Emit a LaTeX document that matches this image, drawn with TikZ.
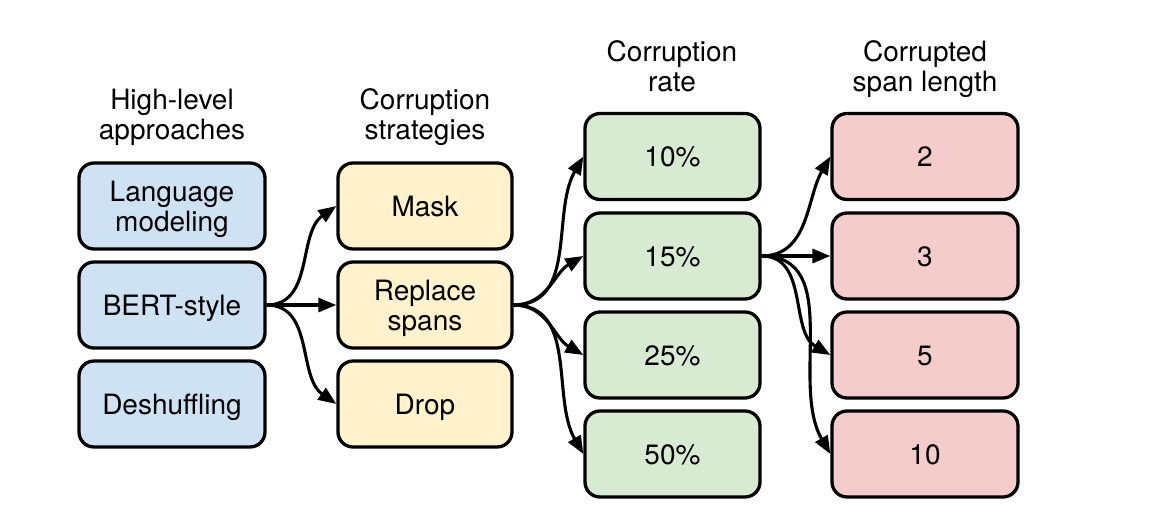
\documentclass[tikz,border=0pt]{standalone}
\usepackage{fontspec}
\setmainfont{TeX Gyre Heros}
\usetikzlibrary{arrows.meta}
\definecolor{cblue}{HTML}{CFE2F3}
\definecolor{cyellow}{HTML}{FFF2CC}
\definecolor{cgreen}{HTML}{D9EAD3}
\definecolor{cred}{HTML}{F4CCCC}
\newcommand\mystrutA{\rule{0pt}{28pt}}
\newcommand\mystrutB{\rule[-8pt]{0pt}{8pt}}
\begin{document}
\begin{tikzpicture}[x=1pt,y=-1pt,
  box/.style={draw=black, line width=3.3pt, rounded corners=15pt, align=center,
    font=\fontsize{28}{30}\selectfont, inner sep=0pt, minimum height=86pt},
  bluebox/.style={box, fill=cblue, minimum width=186pt},
  yellowbox/.style={box, fill=cyellow, minimum width=174pt},
  greenbox/.style={box, fill=cgreen, minimum width=175pt},
  redbox/.style={box, fill=cred, minimum width=186pt},
  title/.style={align=center, font=\fontsize{28}{30.5}\selectfont, inner sep=0pt},
  conn/.style={line width=3.1pt, -{Triangle[length=18pt,width=14pt]}}]
\useasboundingbox (0,0) rectangle (1168,531);
% titles
\node[title] (t1) at (172,114.5) {\mystrutA High-level\\approaches\mystrutB};
\node[title] (t2) at (425,114.5) {\mystrutA Corruption\\strategies\mystrutB};
\node[title] (t3) at (672,66.5) {\mystrutA Corruption\\rate\mystrutB};
\node[title] (t4) at (925,66.5) {\mystrutA Corrupted\\span length\mystrutB};
% column 1
\node[bluebox] (lm) at (172,206) {\mystrutA Language\\modeling\mystrutB};
\node[bluebox] (bert) at (172,305) {\mystrutA BERT-style\mystrutB};
\node[bluebox] (desh) at (172,404) {\mystrutA Deshuffling\mystrutB};
% column 2
\node[yellowbox] (mask) at (425,206) {\mystrutA Mask\mystrutB};
\node[yellowbox] (repl) at (425,305) {\mystrutA Replace\\spans\mystrutB};
\node[yellowbox] (drop) at (425,404) {\mystrutA Drop\mystrutB};
% column 3
\node[greenbox] (r10) at (672.5,156.5) {\mystrutA 10\%\mystrutB};
\node[greenbox] (r15) at (672.5,256) {\mystrutA 15\%\mystrutB};
\node[greenbox] (r25) at (672.5,355) {\mystrutA 25\%\mystrutB};
\node[greenbox] (r50) at (672.5,454) {\mystrutA 50\%\mystrutB};
% column 4
\node[redbox] (l2) at (925,156.5) {\mystrutA 2\mystrutB};
\node[redbox] (l3) at (925,256) {\mystrutA 3\mystrutB};
\node[redbox] (l5) at (925,355) {\mystrutA 5\mystrutB};
\node[redbox] (l10) at (925,454) {\mystrutA 10\mystrutB};
% connectors
\draw[conn] (bert.east) to[out=0,in=215] (mask.west);
\draw[conn] (bert.east) -- (repl.west);
\draw[conn] (bert.east) to[out=0,in=145] (drop.west);
\draw[conn] (repl.east) to[out=0,in=240] (r10.west);
\draw[conn] (repl.east) to[out=0,in=210] (r15.west);
\draw[conn] (repl.east) to[out=0,in=150] (r25.west);
\draw[conn] (repl.east) to[out=0,in=120] (r50.west);
\draw[conn] (r15.east) to[out=0,in=240] (l2.west);
\draw[conn] (r15.east) -- (l3.west);
\draw[conn] (r15.east) to[out=0,in=150] (l5.west);
\draw[conn] (r15.east) to[out=0,in=120] (l10.west);
\end{tikzpicture}
\end{document}
